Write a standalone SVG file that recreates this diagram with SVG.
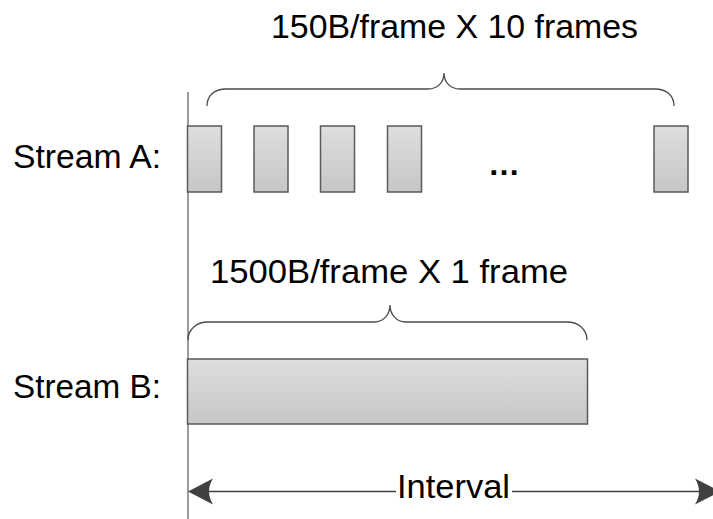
<svg xmlns="http://www.w3.org/2000/svg" width="713" height="519" viewBox="0 0 713 519">
<defs>
<linearGradient id="g" x1="0" y1="0" x2="0" y2="1">
<stop offset="0" stop-color="#dedede"/>
<stop offset="1" stop-color="#c6c6c6"/>
</linearGradient>
<style>
.t{font-family:"Liberation Sans",Arial,sans-serif;fill:#000;}
.fr{fill:url(#g);stroke:#5a5a5a;stroke-width:1.5;}
.br{fill:none;stroke:#4a4a4a;stroke-width:1.3;}
.ln{stroke:#404040;stroke-width:1.5;fill:none;}
.ah{fill:#404040;stroke:none;}
</style>
</defs>
<rect width="713" height="519" fill="#fff"/>
<g id="axis"><line x1="188" y1="92" x2="188" y2="519" stroke="#7a7a7a" stroke-width="1.5"/></g>
<g id="labels">
<text class="t" x="271" y="38" font-size="33" textLength="367" lengthAdjust="spacingAndGlyphs">150B/frame X 10 frames</text>
<text class="t" x="13" y="168" font-size="33" textLength="148" lengthAdjust="spacingAndGlyphs">Stream A:</text>
<text class="t" x="210" y="283" font-size="33" textLength="358" lengthAdjust="spacingAndGlyphs">1500B/frame X 1 frame</text>
<text class="t" x="13" y="398" font-size="33" textLength="148" lengthAdjust="spacingAndGlyphs">Stream B:</text>
</g>
<g id="streamA">
<rect class="fr" x="187.5" y="126" width="34" height="66"/>
<rect class="fr" x="254" y="126" width="34" height="66"/>
<rect class="fr" x="320.5" y="126" width="34" height="66"/>
<rect class="fr" x="387.5" y="126" width="34" height="66"/>
<rect class="fr" x="654" y="126" width="34" height="66"/>
<text class="t" x="504" y="175" font-size="32" font-weight="bold" text-anchor="middle">…</text>
</g>
<g id="braceA"><path class="br" d="M207,106 C207,96 214,89 226,89 L428,89 C438,89 444,82 444,73 C444,82 450,89 460,89 L655,89 C667,89 674,96 674,106"/></g>
<g id="streamB">
<rect class="fr" x="187.5" y="359" width="400" height="65"/>
</g>
<g id="braceB"><path class="br" d="M188,340 C188,330 196,322 208,322 L374,322 C384,322 390,314 390,305 C390,314 396,322 406,322 L567,322 C579,322 587,330 587,340"/></g>
<g id="connectors">
<line class="ln" x1="205" y1="491.5" x2="396" y2="491.5"/>
<line class="ln" x1="512" y1="491.5" x2="700" y2="491.5"/>
<path class="ah" d="M188,491.5 L213,478.5 Q205,491.5 213,504.5 Z"/>
<path class="ah" d="M720,491.5 L695,478.5 Q703,491.5 695,504.5 Z"/>
<text class="t" x="397" y="498" font-size="33" textLength="113" lengthAdjust="spacingAndGlyphs">Interval</text>
</g>
</svg>
